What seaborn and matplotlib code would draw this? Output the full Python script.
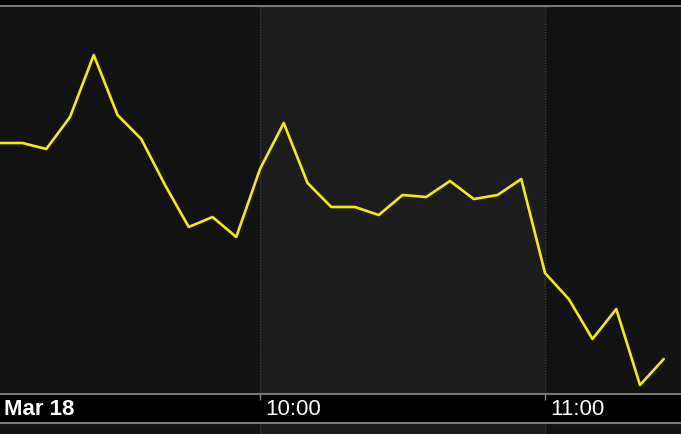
import matplotlib
matplotlib.use("Agg")
import matplotlib.pyplot as plt
import pandas as pd
import seaborn as sns

# 5-minute prices
times = pd.date_range("2024-03-18 09:05", periods=29, freq="5min")
prices = [
    31.00, 31.00, 30.97, 31.13, 31.44, 31.14, 31.02, 30.79, 30.58, 30.63,
    30.53, 30.87, 31.10, 30.80, 30.68, 30.68, 30.64, 30.74, 30.73, 30.81,
    30.72, 30.74, 30.82, 30.35, 30.22, 30.02, 30.17, 29.79, 29.92,
]
tick_times = pd.to_datetime(["2024-03-18 10:00", "2024-03-18 11:00"])
tick_labels = ["10:00", "11:00"]
date_label = "Mar 18"
band_edges = pd.to_datetime(["2024-03-18 09:00", "2024-03-18 10:00",
                             "2024-03-18 11:00", "2024-03-18 12:00"])

df = pd.DataFrame({"time": times, "price": prices})

W, H = 681, 434
x_left = tick_times[0] - pd.Timedelta(hours=260 / 285)
x_right = tick_times[1] + pd.Timedelta(hours=136 / 285)

sns.set_theme(style="dark")
plt.rcParams["font.family"] = ["Liberation Sans", "DejaVu Sans"]

fig = plt.figure(figsize=(W / 100, H / 100), dpi=100, facecolor="black")


def px_axes(top, bottom):
    return fig.add_axes([0, (H - bottom) / H, 1, (bottom - top) / H])


def shade(ax):
    colors = ["#121212", "#1c1c1c", "#121212"]
    for i, c in enumerate(colors):
        ax.axvspan(band_edges[i], band_edges[i + 1], color=c, lw=0, zorder=0)
    for t in tick_times:
        ax.axvline(t, color="#3e3e3e", lw=1, ls=(0, (1, 1)), zorder=1)
    ax.set_xlim(x_left, x_right)
    ax.set_xticks([])
    ax.set_yticks([])
    ax.set_xlabel("")
    ax.set_ylabel("")
    for s in ax.spines.values():
        s.set_visible(False)


# main chart
ax = px_axes(7, 394)
shade(ax)
sns.lineplot(data=df, x="time", y="price", ax=ax, color="#f2ee00",
             lw=1.9, zorder=3)
ax.set_ylim(29.745, 31.68)
ax.set_xlim(x_left, x_right)
ax.set_xticks([])
ax.set_yticks([])
ax.set_xlabel("")
ax.set_ylabel("")

# bottom strip under the time axis
ax_low = px_axes(423, 434)
shade(ax_low)

# time axis bar
ax_bar = px_axes(394, 423)
ax_bar.set_facecolor("black")
ax_bar.set_xlim(x_left, x_right)
ax_bar.set_ylim(0, 1)
ax_bar.set_xticks([])
ax_bar.set_yticks([])
for s in ax_bar.spines.values():
    s.set_visible(False)
for side in ("top", "bottom"):
    ax_bar.spines[side].set_visible(True)
    ax_bar.spines[side].set_color("#777777")
    ax_bar.spines[side].set_linewidth(1.5)
ax_bar.vlines(tick_times, 0.78, 1, color="#888888", lw=1)
ax_bar.text(4 / W, 0.45, date_label, transform=ax_bar.transAxes,
            color="white", fontsize=16, fontweight="bold", va="center")
for t, lab in zip(tick_times, tick_labels):
    ax_bar.annotate(lab, xy=(t, 0.45), xycoords=("data", "axes fraction"),
                    xytext=(3.5, 0), textcoords="offset points",
                    color="white", fontsize=16, va="center")

# top border line
fig.add_artist(plt.Line2D([0, 1], [(H - 6) / H] * 2, color="#777777",
                          lw=1.5, transform=fig.transFigure))

fig.savefig("out.png", dpi=100, facecolor="black")
